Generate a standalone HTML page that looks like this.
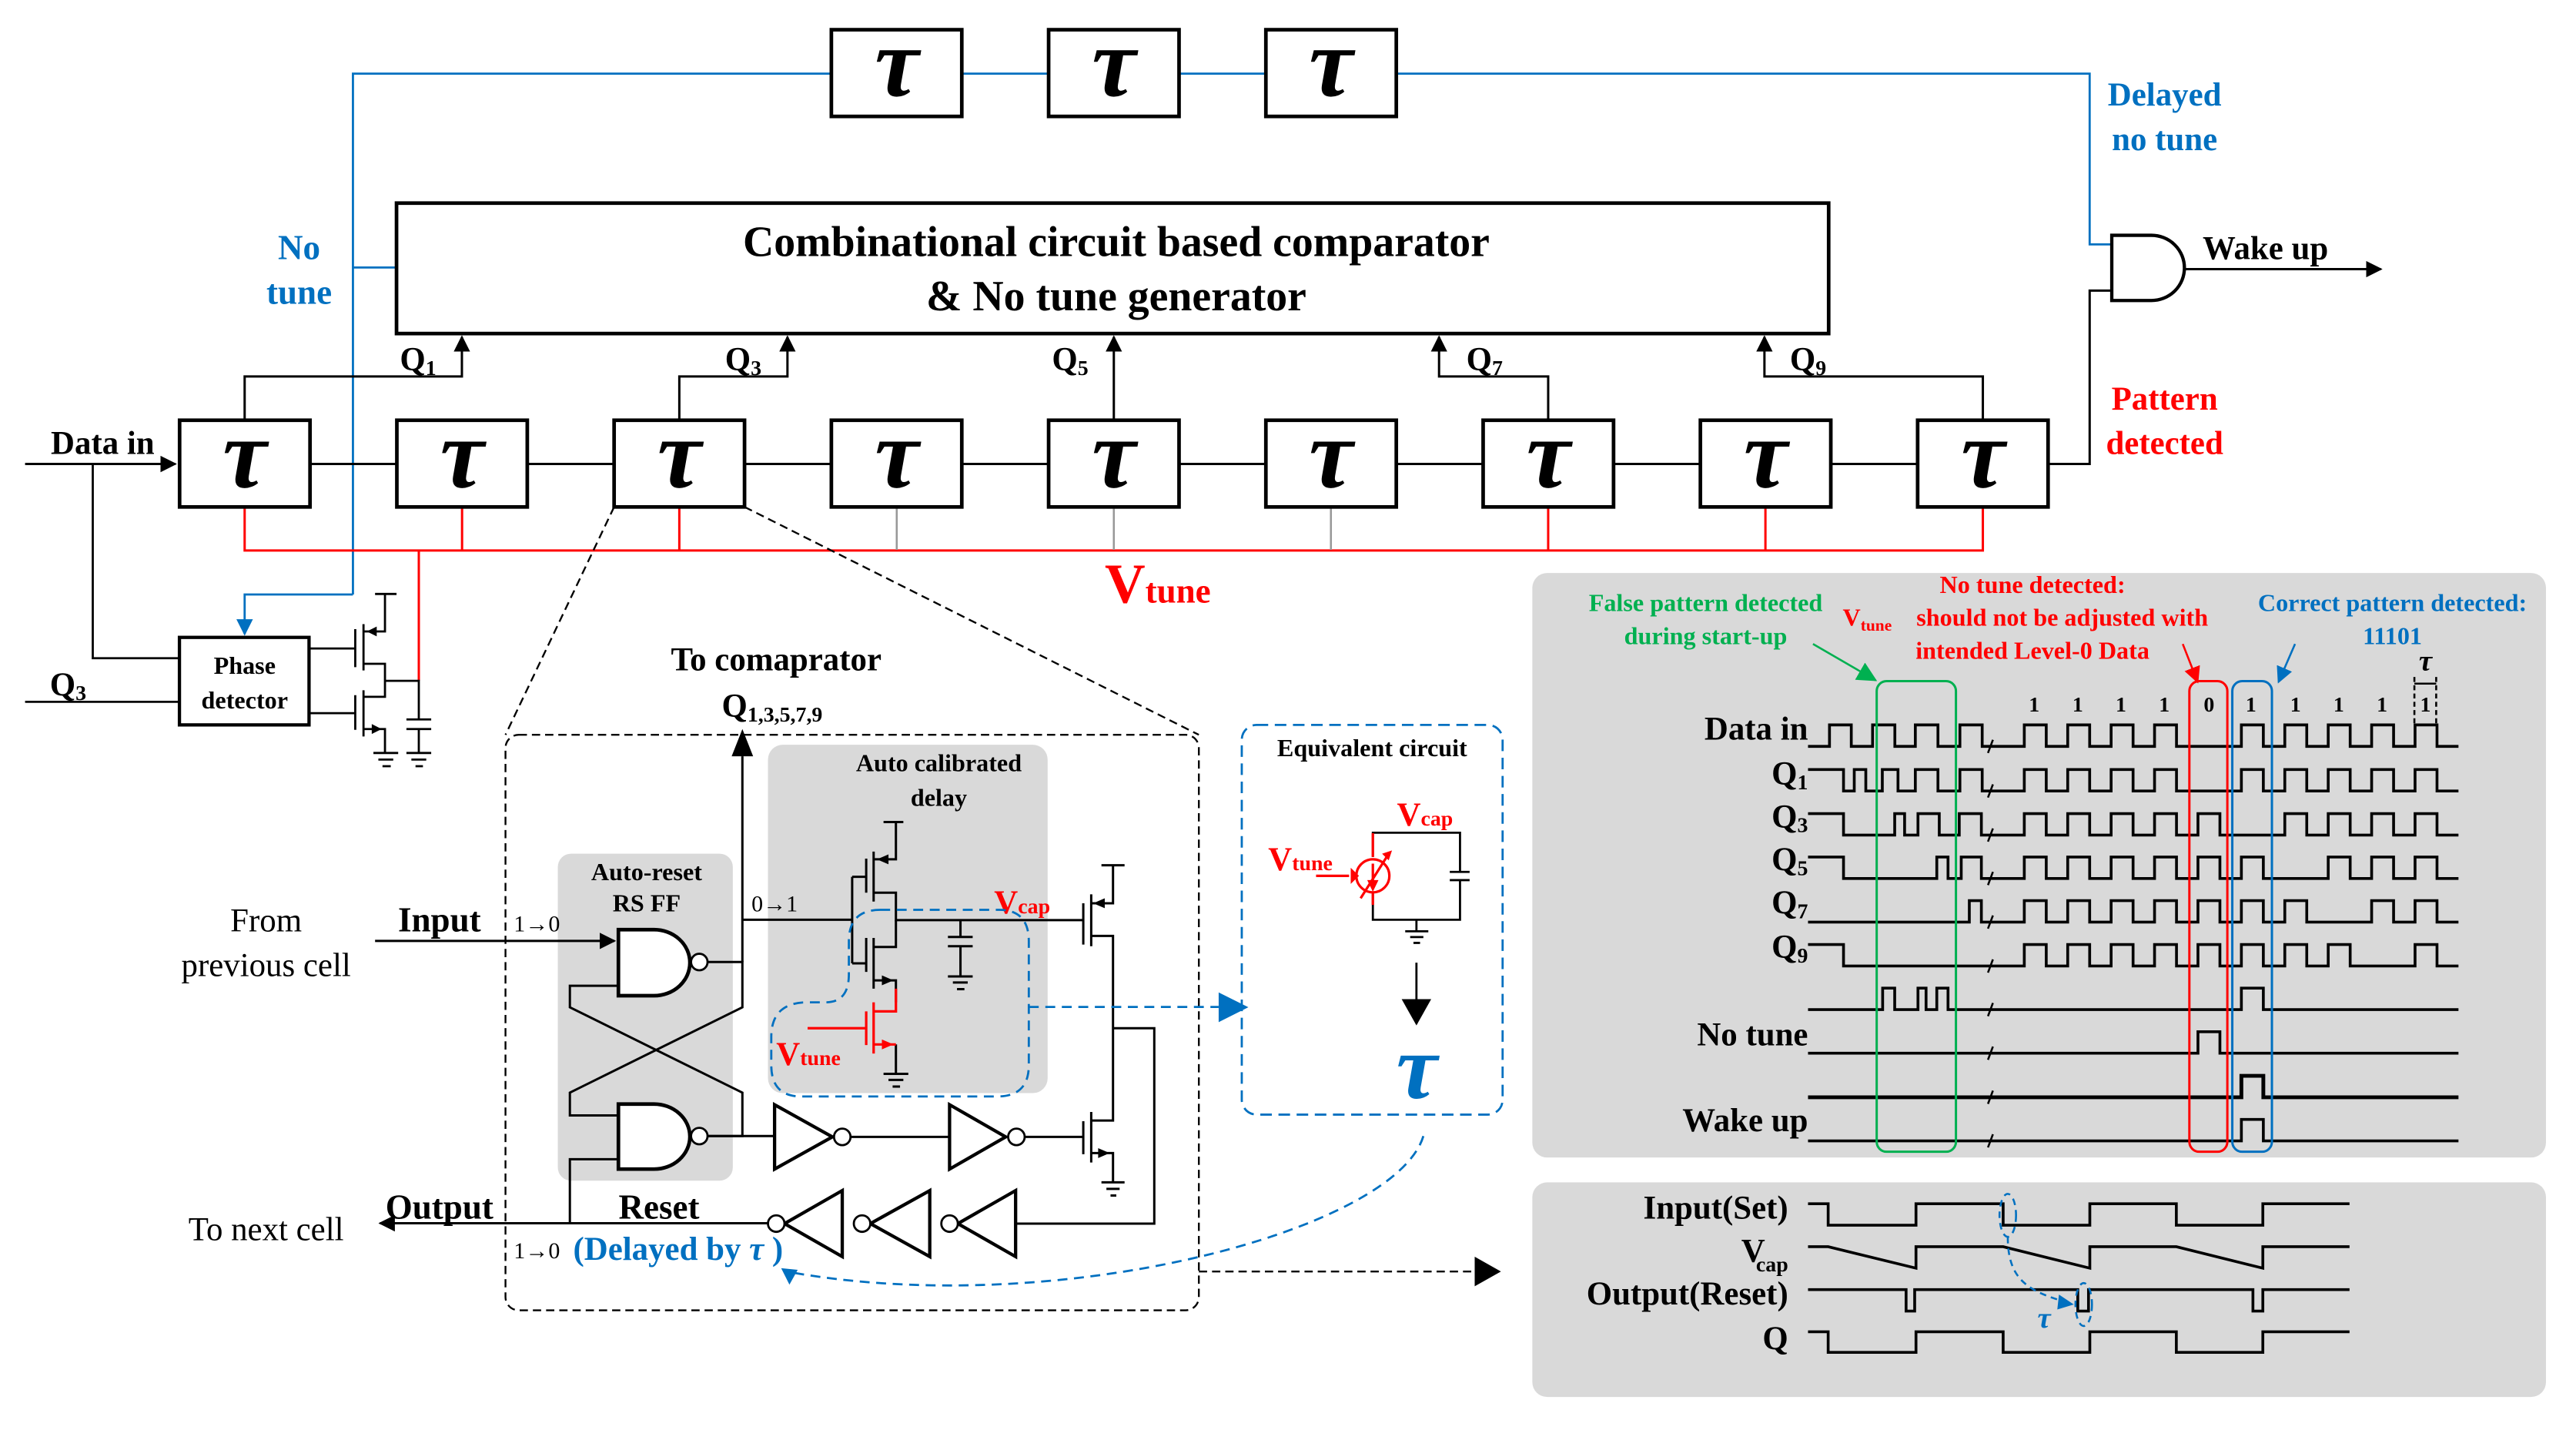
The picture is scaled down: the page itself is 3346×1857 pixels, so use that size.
<!DOCTYPE html>
<html><head><meta charset="utf-8"><style>
html,body{margin:0;padding:0;background:#fff;}
svg{display:block;}
svg, text{font-family:"Liberation Serif","DejaVu Serif",serif;}
.b{font-weight:bold;}
.tau{font-style:italic;font-weight:bold;font-size:60px;text-anchor:middle;}
</style></head><body>
<svg width="3346" height="1857" viewBox="0 0 1560 866" xmlns="http://www.w3.org/2000/svg" font-family="Liberation Serif, DejaVu Serif, serif">
<defs>
<marker id="ab" markerWidth="10" markerHeight="10" refX="9" refY="5" orient="auto" markerUnits="userSpaceOnUse"><path d="M0,0 L10,5 L0,10 Z" fill="#000"/></marker>
<marker id="abl" markerWidth="10" markerHeight="10" refX="9" refY="5" orient="auto" markerUnits="userSpaceOnUse"><path d="M0,0 L10,5 L0,10 Z" fill="#0070c0"/></marker>
<marker id="abig" markerWidth="16" markerHeight="18" refX="15" refY="9" orient="auto" markerUnits="userSpaceOnUse"><path d="M0,0 L16,9 L0,18 Z" fill="#000"/></marker>
<marker id="ag" markerWidth="12" markerHeight="12" refX="11" refY="6" orient="auto" markerUnits="userSpaceOnUse"><path d="M0,0 L12,6 L0,12 Z" fill="#00b050"/></marker>
<marker id="ar" markerWidth="10" markerHeight="10" refX="9" refY="5" orient="auto" markerUnits="userSpaceOnUse"><path d="M0,0 L10,5 L0,10 Z" fill="#ff0000"/></marker>
</defs>

<g stroke="#0070c0" stroke-width="1.3" fill="none">
<path d="M213.6,360 V44.6 H503"/>
<path d="M582.5,44.6 H635 M714,44.6 H766.6 M845.6,44.6 H1265.6 V148 H1279"/>
<path d="M213.6,162 H240"/>
<path d="M213.6,360 H148 V384" marker-end="url(#abl)"/>
</g>

<g stroke="#000" stroke-width="2.2" fill="#fff">
<rect x="503.4" y="18" width="79" height="52.5"/>
<rect x="635" y="18" width="79" height="52.5"/>
<rect x="766.6" y="18" width="79" height="52.5"/>
</g>
<text class="tau" x="543" y="58">τ</text>
<text class="tau" x="674.5" y="58">τ</text>
<text class="tau" x="806" y="58">τ</text>

<rect x="240" y="123" width="867.5" height="79" fill="#fff" stroke="#000" stroke-width="2.2"/>
<text class="b" x="676" y="155" font-size="26" text-anchor="middle">Combinational circuit based comparator</text>
<text class="b" x="676" y="188" font-size="26" text-anchor="middle">&amp; No tune generator</text>
<text class="b" x="181" y="157" font-size="21" fill="#0070c0" text-anchor="middle">No</text>
<text class="b" x="181" y="184" font-size="21" fill="#0070c0" text-anchor="middle">tune</text>

<g stroke="#ff0000" stroke-width="1.4" fill="none">
<path d="M148,307 V333.4 H1200.9 V307"/>
<path d="M279.7,307 V333.4 M411.3,307 V333.4 M937.6,307 V333.4 M1069.2,307 V333.4"/>
<path d="M253.5,333.4 V412.3"/>
</g>
<g stroke="#999" stroke-width="1.2"><path d="M543,307 V333 M674.5,307 V333 M806,307 V333"/></g>

<path d="M15,281 H106" stroke="#000" stroke-width="1.4" marker-end="url(#ab)"/>
<path d="M187.6,281 H1161 M1240,281 H1265.6 V176 H1279" stroke="#000" stroke-width="1.4" fill="none"/>
<g stroke="#000" stroke-width="2.2" fill="#fff">
<rect x="108.6" y="254.5" width="79" height="52.5"/>
<rect x="240.2" y="254.5" width="79" height="52.5"/>
<rect x="371.8" y="254.5" width="79" height="52.5"/>
<rect x="503.4" y="254.5" width="79" height="52.5"/>
<rect x="635" y="254.5" width="79" height="52.5"/>
<rect x="766.6" y="254.5" width="79" height="52.5"/>
<rect x="898.2" y="254.5" width="79" height="52.5"/>
<rect x="1029.8" y="254.5" width="79" height="52.5"/>
<rect x="1161.4" y="254.5" width="79" height="52.5"/>
</g>
<g>
<text class="tau" x="148" y="295">τ</text>
<text class="tau" x="279.7" y="295">τ</text>
<text class="tau" x="411.3" y="295">τ</text>
<text class="tau" x="543" y="295">τ</text>
<text class="tau" x="674.5" y="295">τ</text>
<text class="tau" x="806" y="295">τ</text>
<text class="tau" x="937.7" y="295">τ</text>
<text class="tau" x="1069.3" y="295">τ</text>
<text class="tau" x="1201" y="295">τ</text>
</g>
<text class="b" x="62" y="275" font-size="20" text-anchor="middle">Data in</text>

<g stroke="#000" stroke-width="1.4" fill="none">
<path d="M148,254.5 V228 H279.6 V204" marker-end="url(#ab)"/>
<path d="M411.3,254.5 V228 H476.8 V204" marker-end="url(#ab)"/>
<path d="M674.5,254.5 V204" marker-end="url(#ab)"/>
<path d="M937.6,254.5 V228 H871.5 V204" marker-end="url(#ab)"/>
<path d="M1200.9,254.5 V228 H1068.6 V204" marker-end="url(#ab)"/>
</g>
<g class="b" font-size="20">
<text x="242" y="224">Q<tspan font-size="13" dy="3">1</tspan></text>
<text x="439" y="224">Q<tspan font-size="13" dy="3">3</tspan></text>
<text x="637" y="224">Q<tspan font-size="13" dy="3">5</tspan></text>
<text x="888" y="224">Q<tspan font-size="13" dy="3">7</tspan></text>
<text x="1084" y="224">Q<tspan font-size="13" dy="3">9</tspan></text>
</g>

<path d="M1279,142.5 H1303 A20,19.75 0 0 1 1303,182 H1279 Z" fill="#fff" stroke="#000" stroke-width="2"/>
<path d="M1323,163 H1442" stroke="#000" stroke-width="1.4" marker-end="url(#ab)"/>
<text class="b" x="1334" y="157" font-size="20">Wake up</text>
<text class="b" x="1311" y="64" font-size="20" fill="#0070c0" text-anchor="middle">Delayed</text>
<text class="b" x="1311" y="91" font-size="20" fill="#0070c0" text-anchor="middle">no tune</text>
<text class="b" x="1311" y="248" font-size="20" fill="#ff0000" text-anchor="middle">Pattern</text>
<text class="b" x="1311" y="275" font-size="20" fill="#ff0000" text-anchor="middle">detected</text>
<text class="b" x="669" y="365" font-size="34" fill="#ff0000">V<tspan font-size="21">tune</tspan></text>

<path d="M56,281 V398.6 H108.5 M15,425 H108.5" stroke="#000" stroke-width="1.3" fill="none"/>
<rect x="108.5" y="386" width="78.5" height="53" fill="#fff" stroke="#000" stroke-width="2"/>
<text class="b" x="148" y="408" font-size="15" text-anchor="middle">Phase</text>
<text class="b" x="148" y="429" font-size="15" text-anchor="middle">detector</text>
<text class="b" x="30" y="421" font-size="20">Q<tspan font-size="13" dy="3">3</tspan></text>
<g stroke="#000" stroke-width="1.3" fill="none">
<path d="M187,392.7 H215 M215,381 V404 M220,378 V406 M220,382.4 H233 V359.7 M227,359.7 H240 M220,402 H233 V422 H220 M233,412.3 H253.5 V435.7 M246,435.7 H261 M246,441.5 H261 M253.5,441.5 V456 M246,456 H261 M249,460 H258 M251.5,464 H256"/>
<path d="M187,431.9 H215 M215,421 V442 M220,418 V446 M220,441.5 H233 V456 M226,456 H241 M229,460 H238 M231.5,464 H236.5"/>
</g>
<path d="M222,382.4 l6,-3 v6z M231,441.5 l-6,-3 v6z" fill="#000"/>

<g stroke="#000" stroke-width="1.1" stroke-dasharray="5,3" fill="none">
<path d="M371.8,307 L306,445 M450.8,307 L726,445"/>
<rect x="306" y="445" width="420" height="348.5" rx="8"/>
<path d="M726,770 H908" marker-end="url(#abig)"/>
</g>

<rect x="337.7" y="517" width="106" height="198" rx="8" fill="#d9d9d9"/>
<rect x="465" y="451" width="169.4" height="211" rx="9" fill="#d9d9d9"/>
<text class="b" x="391.5" y="533" font-size="15" text-anchor="middle">Auto-reset</text>
<text class="b" x="391.5" y="552" font-size="15" text-anchor="middle">RS FF</text>
<text class="b" x="568.5" y="467" font-size="15" text-anchor="middle">Auto calibrated</text>
<text class="b" x="568.5" y="488" font-size="15" text-anchor="middle">delay</text>

<text class="b" x="470" y="406" font-size="20" text-anchor="middle">To comaprator</text>
<text class="b" x="437" y="434" font-size="20">Q<tspan font-size="13" dy="3">1,3,5,7,9</tspan></text>

<g stroke="#000" stroke-width="1.4" fill="none">
<path d="M449.5,582.6 V458"/>
<path d="M227,569.8 H372" marker-end="url(#ab)"/>
<path d="M428.5,582.6 H449.5 V610 L345,661.7 V675.5 H374.4"/>
<path d="M374.4,597 H345 V610 L449.5,661.7 V688 H428.5"/>
<path d="M374.4,702 H345 V740.8"/>
<path d="M449.5,557 H516 M516,531 V583.4 M516,531 H524.5 M516,583.4 H524.5"/>
<path d="M465,740.8 H230" marker-end="url(#ab)"/>
</g>
<path d="M449.5,441.5 L443,458 H456 Z" fill="#000"/>
<g stroke="#000" stroke-width="2.2" fill="#fff">
<path d="M374.4,563 H396 A21.7,20 0 0 1 396,603 H374.4 Z"/>
<path d="M374.4,668.6 H396 A21.7,19.7 0 0 1 396,708 H374.4 Z"/>
</g>
<g stroke="#000" stroke-width="1.3" fill="#fff">
<circle cx="423.4" cy="582.6" r="5"/>
<circle cx="423.4" cy="688" r="5"/>
</g>
<path d="M428.5,688 H469" stroke="#000" stroke-width="1.4"/>
<g stroke="#000" stroke-width="2" fill="#fff">
<path d="M469,669 L504,688.5 L469,708 Z"/>
<path d="M575,669 L609,688.5 L575,708 Z"/>
</g>
<path d="M515,688.5 H575 M621,688.5 H656" stroke="#000" stroke-width="1.4"/>
<g stroke="#000" stroke-width="1.3" fill="#fff"><circle cx="510" cy="688.5" r="5"/><circle cx="615.5" cy="688.5" r="5"/></g>

<g stroke="#000" stroke-width="2" fill="#fff">
<path d="M510,721 L475,741 L510,761 Z"/>
<path d="M563,721 L527,741 L563,761 Z"/>
<path d="M615,721 L580,741 L615,761 Z"/>
</g>
<g stroke="#000" stroke-width="1.3" fill="#fff"><circle cx="470" cy="741" r="5"/><circle cx="522" cy="741" r="5"/><circle cx="575" cy="741" r="5"/></g>
<path d="M615,741 H699 V622.7 H674" stroke="#000" stroke-width="1.4" fill="none"/>

<g stroke="#000" stroke-width="1.4" fill="none">
<path d="M524.5,520 V540.6 M529,515.7 V546 M529,520.4 H542.5 V497.8 M535,497.8 H547 M529,540.6 H542.5 V557.2 H656"/>
<path d="M524.5,568 V588.6 M529,568 V598.7 M529,573.5 H542.5 V557.2 M529,593.7 H542.5 V607"/>
<path d="M581.6,557.2 V567.4 M574,567.4 H589 M574,573 H589 M581.6,573 V591.3 M574,591.3 H589 M577,595 H586 M579.5,599 H584"/>
<path d="M542.5,632.5 V650.3 M535,650.3 H550 M538,654 H547 M540.5,658 H545"/>
<path d="M656,547 V572 M660.8,541.6 V573 M660.8,547 H674 V524 M667,524 H681 M660.8,566.8 H674 V678.6 H660.8 M656,679 V699 M660.8,673.4 V704 M660.8,698.3 H674 V716 M667,716 H681 M670,720 H678 M672.5,724 H676"/>
</g>
<g stroke="#ff0000" stroke-width="1.5" fill="none">
<path d="M542.5,598.7 V612.5 H529 M524.5,612.5 V632.9 M529,607 V638 M529,632.5 H542.5 M489,622.7 H524.5"/>
</g>
<path d="M531,520.4 l7,-3 v6z M541,593.7 l-7,-3 v6z M672,698.3 l-7,-3 v6z M662,547 l7,-3 v6z" fill="#000"/>
<path d="M541,632.5 l-7,-3 v6z" fill="#ff0000"/>
<text class="b" x="602" y="553" font-size="20" fill="#ff0000">V<tspan font-size="13" dy="0">cap</tspan></text>
<text class="b" x="470" y="645" font-size="20" fill="#ff0000">V<tspan font-size="13">tune</tspan></text>
<text x="455" y="552" font-size="14">0→1</text>

<g stroke="#0070c0" stroke-width="1.3" fill="none" stroke-dasharray="6,4">
<path d="M533,551 H605 Q623,551 623,570 V645 Q623,664 604,664 H485 Q467,664 467,645 V628 Q467,607 489,607 H500 Q514,607 514,590 V570 Q514,551 533,551 Z"/>
<path d="M623,609.8 H738"/>
<path d="M862,688 C845,745 640,800 476,770"/>
</g>
<path d="M738,601 L756,610 L738,619 Z" fill="#0070c0"/>
<path d="M478,778 l-5,-10 l10,1z" fill="#0070c0"/>

<text x="161" y="564" font-size="20" text-anchor="middle">From</text>
<text x="161" y="591" font-size="20" text-anchor="middle">previous cell</text>
<text class="b" x="266" y="564" font-size="21" text-anchor="middle">Input</text>
<text x="325" y="564" font-size="14" text-anchor="middle">1→0</text>
<text class="b" x="266" y="738" font-size="21" text-anchor="middle">Output</text>
<text class="b" x="399" y="738" font-size="21" text-anchor="middle">Reset</text>
<text x="161" y="751" font-size="20" text-anchor="middle">To next cell</text>
<text x="325" y="762" font-size="14" text-anchor="middle">1→0</text>
<text class="b" x="347" y="763" font-size="20" fill="#0070c0">(Delayed by <tspan font-style="italic">τ</tspan> )</text>

<rect x="752" y="439" width="158" height="236" rx="9" fill="none" stroke="#0070c0" stroke-width="1.3" stroke-dasharray="7,4"/>
<text class="b" x="831" y="458" font-size="15" text-anchor="middle">Equivalent circuit</text>
<g stroke="#000" stroke-width="1.3" fill="none">
<path d="M831.4,519 V504.3 H884.2 V528 M878,528 H890 M878,533 H890 M884.2,533 V557 H831.4 V541 M857.8,557 V564 M851,564 H865 M854,567.5 H862 M856,571 H860"/>
<path d="M857.8,583 V620" marker-end="url(#abig)"/>
</g>
<g stroke="#ff0000" stroke-width="1.5" fill="none">
<circle cx="831.4" cy="530.4" r="10"/>
<path d="M831.4,519 V504.5 M831.4,541 V548 M831.4,523 V537 M824,544 L841,517 M797,530.4 H817" />
</g>
<path d="M828,533 l3.4,7 l3.4,-7z M818,525.5 L823,530.4 L818,535.3z M843,515 l-6,2 l4,4z" fill="#ff0000"/>
<text class="b" x="846" y="500" font-size="20" fill="#ff0000">V<tspan font-size="13">cap</tspan></text>
<text class="b" x="768" y="527" font-size="20" fill="#ff0000">V<tspan font-size="13">tune</tspan></text>
<text x="858" y="665" font-size="56" fill="#0070c0" font-style="italic" font-weight="bold" text-anchor="middle">τ</text>

<rect x="928" y="347" width="614" height="354" rx="9" fill="#d9d9d9"/>
<g class="b" font-size="15" text-anchor="middle">
<text x="1033" y="370" fill="#00b050">False pattern detected</text>
<text x="1033" y="390" fill="#00b050">during start-up</text>
<text x="1231" y="359" fill="#ff0000">No tune detected:</text>
<text x="1249" y="379" fill="#ff0000">should not be adjusted with</text>
<text x="1116" y="379" fill="#ff0000" text-anchor="start">V<tspan font-size="10" dy="3">tune</tspan></text>
<text x="1231" y="399" fill="#ff0000">intended Level-0 Data</text>
<text x="1449" y="370" fill="#0070c0">Correct pattern detected:</text>
<text x="1449" y="390" fill="#0070c0">11101</text>
</g>
<path d="M1098,390 L1136,412" stroke="#00b050" stroke-width="1.2" marker-end="url(#ag)"/>
<path d="M1322,390 L1331,413" stroke="#ff0000" stroke-width="1.2" marker-end="url(#ar)"/>
<path d="M1390,390 L1380,413" stroke="#0070c0" stroke-width="1.2" marker-end="url(#abl)"/>
<g class="b" font-size="13" text-anchor="middle">
<text x="1232" y="431">1</text><text x="1258.4" y="431">1</text><text x="1284.6" y="431">1</text><text x="1310.8" y="431">1</text><text x="1337.9" y="431">0</text><text x="1363.3" y="431">1</text><text x="1390.3" y="431">1</text><text x="1416.5" y="431">1</text><text x="1442.7" y="431">1</text><text x="1469" y="431">1</text>
</g>
<text x="1469" y="406" font-size="18" font-style="italic" font-weight="bold" text-anchor="middle">τ</text>
<path d="M1462.3,410 V440 M1475.5,410 V440" stroke="#000" stroke-width="1.2" stroke-dasharray="3,2"/>
<path d="M1462.3,414 H1475.5" stroke="#000" stroke-width="1.2"/>

<g class="b" font-size="20" text-anchor="end">
<text x="1095" y="448">Data in</text>
<text x="1095" y="475">Q<tspan font-size="13" dy="3">1</tspan></text>
<text x="1095" y="501">Q<tspan font-size="13" dy="3">3</tspan></text>
<text x="1095" y="527">Q<tspan font-size="13" dy="3">5</tspan></text>
<text x="1095" y="553">Q<tspan font-size="13" dy="3">7</tspan></text>
<text x="1095" y="580">Q<tspan font-size="13" dy="3">9</tspan></text>
<text x="1095" y="633">No tune</text>
<text x="1095" y="685">Wake up</text>
</g>

<g stroke="#000" stroke-width="1.7" fill="none">
<path d="M1095,452 H1108 V439 H1121.2 V452 H1134.1 V439 H1147.6 V452 H1160 V439 H1173.7 V452 H1187 V439 H1200.5 V452 H1226 v-13 h13.3 v13 H1252.3 v-13 h13.3 v13 H1278.6 v-13 h13.3 v13 H1304.9 v-13 h13.3 v13 H1357.5 v-13 h13.3 v13 H1383.8 v-13 h13.3 v13 H1410.1 v-13 h13.3 v13 H1436.4 v-13 h13.3 v13 H1462.7 v-13 h13.3 v13 H1489"/>
<path d="M1095,466 H1116.5 V479 H1123 V466 H1130 V479 H1140 V466 H1149.5 V479 H1160 V466 H1173.7 V479 H1187 V466 H1200.5 V479 H1226 v-13 h13.3 v13 H1252.3 v-13 h13.3 v13 H1278.6 v-13 h13.3 v13 H1304.9 v-13 h13.3 v13 H1357.5 v-13 h13.3 v13 H1383.8 v-13 h13.3 v13 H1410.1 v-13 h13.3 v13 H1436.4 v-13 h13.3 v13 H1462.7 v-13 h13.3 v13 H1489"/>
<path d="M1095,492.7 H1116.5 V505.7 H1147.5 V492.7 H1153.5 V505.7 H1161.6 V492.7 H1174.5 V505.7 H1186.6 V492.7 H1200 V505.7 H1226 v-13 h13.3 v13 H1252.3 v-13 h13.3 v13 H1278.6 v-13 h13.3 v13 H1304.9 v-13 h13.3 v13 H1331.2 v-13 h13.3 v13 H1383.8 v-13 h13.3 v13 H1410.1 v-13 h13.3 v13 H1436.4 v-13 h13.3 v13 H1462.7 v-13 h13.3 v13 H1489"/>
<path d="M1095,519 H1116.5 V532 H1173 V519 H1179.8 V532 H1187.8 V519 H1200 V532 H1226 v-13 h13.3 v13 H1252.3 v-13 h13.3 v13 H1278.6 v-13 h13.3 v13 H1304.9 v-13 h13.3 v13 H1331.2 v-13 h13.3 v13 H1357.5 v-13 h13.3 v13 H1410.1 v-13 h13.3 v13 H1436.4 v-13 h13.3 v13 H1462.7 v-13 h13.3 v13 H1489"/>
<path d="M1095,558.4 H1192.7 V545.4 H1200 V558.4 H1226 v-13 h13.3 v13 H1252.3 v-13 h13.3 v13 H1278.6 v-13 h13.3 v13 H1304.9 v-13 h13.3 v13 H1331.2 v-13 h13.3 v13 H1357.5 v-13 h13.3 v13 H1383.8 v-13 h13.3 v13 H1436.4 v-13 h13.3 v13 H1462.7 v-13 h13.3 v13 H1489"/>
<path d="M1095,572 H1116.5 V585 H1226 v-13 h13.3 v13 H1252.3 v-13 h13.3 v13 H1278.6 v-13 h13.3 v13 H1304.9 v-13 h13.3 v13 H1331.2 v-13 h13.3 v13 H1357.5 v-13 h13.3 v13 H1383.8 v-13 h13.3 v13 H1410.1 v-13 h13.3 v13 H1462.7 v-13 h13.3 v13 H1489"/>
<path d="M1095,611.4 H1140.2 V598.4 H1147.5 V611.4 H1161.6 V598.4 H1166.5 V611.4 H1173 V598.4 H1179.8 V611.4 H1357.5 v-13 h13.3 v13 H1489"/>
<path d="M1095,637.8 H1331.2 v-13 h13.3 v13 H1489"/>
<path d="M1095,664.5 H1357.5 v-13 h13.3 v13 H1489" stroke-width="2.3"/>
<path d="M1095,690.9 H1357.5 v-13 h13.3 v13 H1489"/>
</g>
<g stroke="#000" stroke-width="1.2">
<path d="M1204,456 l3,-8 M1204,483 l3,-8 M1204,509.7 l3,-8 M1204,536 l3,-8 M1204,562.4 l3,-8 M1204,589 l3,-8 M1204,615.4 l3,-8 M1204,641.8 l3,-8 M1204,668.5 l3,-8 M1204,694.9 l3,-8"/>
</g>
<g fill="none" stroke-width="1.4">
<rect x="1136.6" y="412.5" width="48" height="285" rx="6" stroke="#00b050"/>
<rect x="1326" y="412.5" width="23" height="285" rx="6" stroke="#ff0000"/>
<rect x="1352" y="412.5" width="24" height="285" rx="6" stroke="#0070c0"/>
</g>

<rect x="928" y="716" width="614" height="130" rx="9" fill="#d9d9d9"/>
<g class="b" font-size="20" text-anchor="end">
<text x="1083" y="738">Input(Set)</text>
<text x="1069" y="764">V</text><text x="1083" y="770" font-size="13">cap</text>
<text x="1083" y="790">Output(Reset)</text>
<text x="1083" y="817">Q</text>
</g>
<g stroke="#000" stroke-width="1.7" fill="none">
<path d="M1095,729 H1107.2 V742 H1160.4 V729 H1213.2 V742 H1265.7 V729 H1318.1 V742 H1370.5 V729 H1423"/>
<path d="M1095,755 H1107.2 L1160.4,768 V755 H1213.2 L1265.7,768 V755 H1318.1 L1370.5,768 V755 H1423"/>
<path d="M1095,781 H1154.4 V794 H1159.6 V781 H1258.4 V794 H1264.9 V781 H1364.5 V794 H1370.5 V781 H1423"/>
<path d="M1095,806.5 H1107.2 V819 H1160.4 V806.5 H1213.2 V819 H1265.7 V806.5 H1318.1 V819 H1370.5 V806.5 H1423"/>
</g>
<g stroke="#0070c0" stroke-width="1.2" fill="none" stroke-dasharray="4,3">
<ellipse cx="1216" cy="736" rx="5" ry="13"/>
<ellipse cx="1262" cy="790" rx="5" ry="13"/>
<path d="M1216,749 C1216,775 1228,782 1253,789"/>
</g>
<path d="M1247,784 L1256,790 L1246,793 Z" fill="#0070c0"/>
<text x="1238" y="804" font-size="18" fill="#0070c0" font-style="italic" font-weight="bold" text-anchor="middle">τ</text>
</svg>
</body></html>
